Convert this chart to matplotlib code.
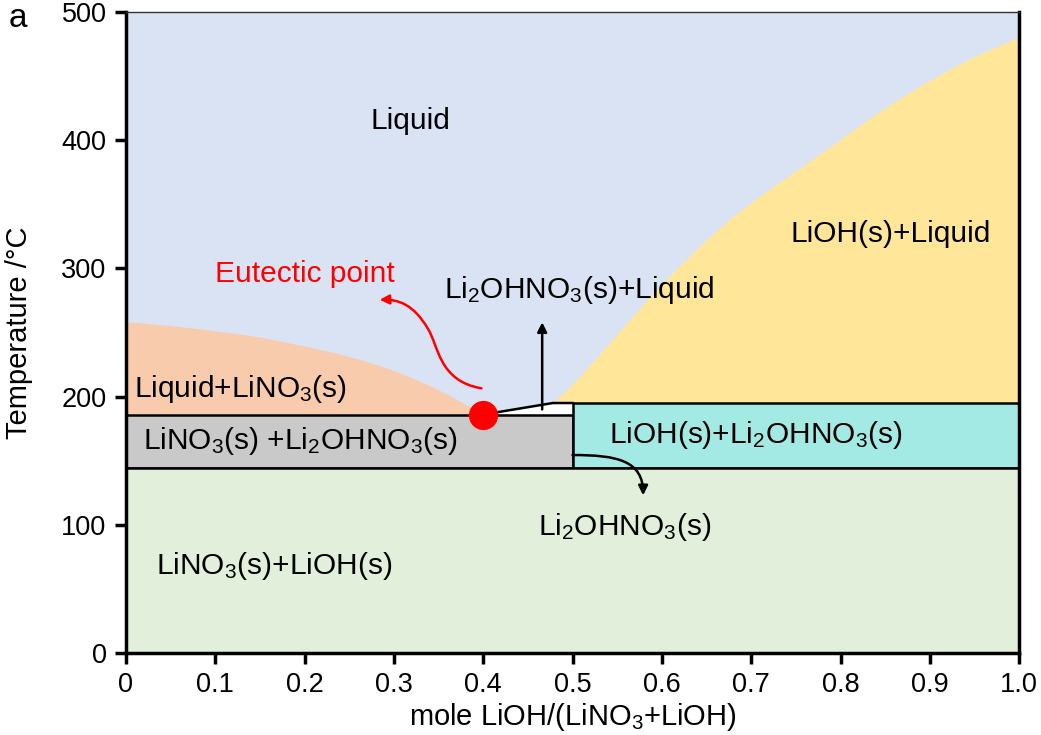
import numpy as np
import matplotlib.pyplot as plt
from matplotlib.path import Path
from matplotlib.patches import FancyArrowPatch, Rectangle, Polygon, PathPatch

plt.rcParams["font.family"] = ["Liberation Sans", "DejaVu Sans"]
plt.rcParams["mathtext.fontset"] = "custom"
plt.rcParams["mathtext.rm"] = "Liberation Sans"
plt.rcParams["mathtext.it"] = "Liberation Sans"

# phase boundaries
liq_lino3_x = [0.0, 0.05, 0.10, 0.15, 0.20, 0.25, 0.30, 0.35, 0.40]
liq_lino3_T = [258, 255, 251, 246, 239, 231, 220, 205, 186]
liq_lioh_x = [0.478, 0.50, 0.535, 0.60, 0.68, 0.79, 0.84, 0.89, 0.945, 1.0]
liq_lioh_T = [195, 209, 236, 287, 340, 395, 420, 442, 463, 480]
eutectic_x, eutectic_T = 0.40, 186
peritectic_x, peritectic_T = 0.478, 195
compound_x = 0.5
solid_T = 144

labels = [
    ("Liquid", 0.318, 415),
    ("LiOH(s)+Liquid", 0.856, 327),
    ("Li$_2$OHNO$_3$(s)+Liquid", 0.508, 283),
    ("Liquid+LiNO$_3$(s)", 0.128, 206),
    ("LiNO$_3$(s) +Li$_2$OHNO$_3$(s)", 0.195, 165),
    ("LiOH(s)+Li$_2$OHNO$_3$(s)", 0.705, 170),
    ("Li$_2$OHNO$_3$(s)", 0.558, 98),
    ("LiNO$_3$(s)+LiOH(s)", 0.166, 68),
]

c_liquid = "#dae3f3"
c_peach = "#f8cbad"
c_gray = "#c9c9c9"
c_cyan = "#a4eae4"
c_yellow = "#ffe699"
c_green = "#e2efda"


def smooth_verts(xs, ys):
    # Catmull-Rom through the read points, written as cubic Bezier segments
    p = np.column_stack([xs, ys]).astype(float)
    ext = np.vstack([p[0], p, p[-1]])
    verts = [p[0]]
    for i in range(len(p) - 1):
        p0, p1, p2, p3 = ext[i], ext[i + 1], ext[i + 2], ext[i + 3]
        verts += [p1 + (p2 - p0) / 6, p2 - (p3 - p1) / 6, p2]
    codes = [Path.MOVETO] + [Path.CURVE4] * (len(verts) - 1)
    return verts, codes


fig = plt.figure(figsize=(10.41, 7.35), dpi=100)
ax = fig.add_axes([0.121, 0.1116, 0.858, 0.872])
ax.set_xlim(0, 1.0)
ax.set_ylim(0, 500)
ax.set_facecolor(c_liquid)

# filled regions
v, c = smooth_verts(liq_lino3_x, liq_lino3_T)
v += [(liq_lino3_x[0], eutectic_T), (0, 0)]
c += [Path.LINETO, Path.CLOSEPOLY]
ax.add_patch(PathPatch(Path(v, c), fc=c_peach, ec="none"))

v, c = smooth_verts(liq_lioh_x, liq_lioh_T)
v += [(liq_lioh_x[-1], peritectic_T), (0, 0)]
c += [Path.LINETO, Path.CLOSEPOLY]
ax.add_patch(PathPatch(Path(v, c), fc=c_yellow, ec="none"))

ax.add_patch(Polygon([(eutectic_x, eutectic_T), (peritectic_x, peritectic_T),
                      (compound_x, peritectic_T), (compound_x, eutectic_T)],
                     closed=True, fc="white", ec="none"))
ax.add_patch(Rectangle((0, solid_T), compound_x, eutectic_T - solid_T,
                       fc=c_gray, ec="black", lw=1.8))
ax.add_patch(Rectangle((compound_x, solid_T), 1 - compound_x, peritectic_T - solid_T,
                       fc=c_cyan, ec="black", lw=1.8))
ax.add_patch(Rectangle((0, 0), 1, solid_T, fc=c_green, ec="black", lw=1.8))
ax.plot([eutectic_x, peritectic_x, compound_x], [eutectic_T, peritectic_T, peritectic_T],
        color="black", lw=1.8)

# eutectic point
ax.plot([eutectic_x], [eutectic_T], "o", color="red", ms=20, zorder=5)

for txt, x, y in labels:
    ax.text(x, y, txt, fontsize=21.5, ha="center", va="center")

ax.text(0.2, 296, "Eutectic point", fontsize=21.5, color="red", ha="center", va="center")

# red curved arrow
red_pts = [(0.398, 206.5), (0.35, 212), (0.35, 240), (0.338, 253),
           (0.322, 272), (0.305, 276), (0.284, 275.5)]
red_codes = [Path.MOVETO] + [Path.CURVE4] * 6
ax.add_patch(FancyArrowPatch(path=Path(red_pts, red_codes), arrowstyle="-|>",
                             mutation_scale=14, color="red", lw=1.8,
                             shrinkA=0, shrinkB=0, zorder=6))

# black arrows
ax.annotate("", xy=(0.466, 258), xytext=(0.466, 190),
            arrowprops=dict(arrowstyle="-|>", color="black", lw=1.8,
                            mutation_scale=14, shrinkA=0, shrinkB=0))
blk_pts = [(0.5, 154.4), (0.55, 154.5), (0.579, 150), (0.579, 123)]
blk_codes = [Path.MOVETO, Path.CURVE4, Path.CURVE4, Path.CURVE4]
ax.add_patch(FancyArrowPatch(path=Path(blk_pts, blk_codes), arrowstyle="-|>",
                             mutation_scale=14, color="black", lw=1.8,
                             shrinkA=0, shrinkB=0, zorder=6))

ax.set_xticks(np.arange(0, 1.01, 0.1))
ax.set_xticklabels(["0", "0.1", "0.2", "0.3", "0.4", "0.5", "0.6", "0.7", "0.8", "0.9", "1.0"])
ax.set_yticks(np.arange(0, 501, 100))
ax.tick_params(labelsize=19.5, width=2.5, length=8, direction="out", pad=6)
for s in ["left", "bottom", "right"]:
    ax.spines[s].set_linewidth(2.5)
ax.spines["top"].set_linewidth(1.0)
ax.spines["top"].set_color("#333333")

ax.set_xlabel("mole LiOH/(LiNO$_3$+LiOH)", fontsize=21, labelpad=2)
ax.set_ylabel("Temperature /°C", fontsize=21, labelpad=20)
fig.text(0.017, 0.975, "a", fontsize=24, ha="center", va="center")

fig.savefig("out.png", dpi=100)
